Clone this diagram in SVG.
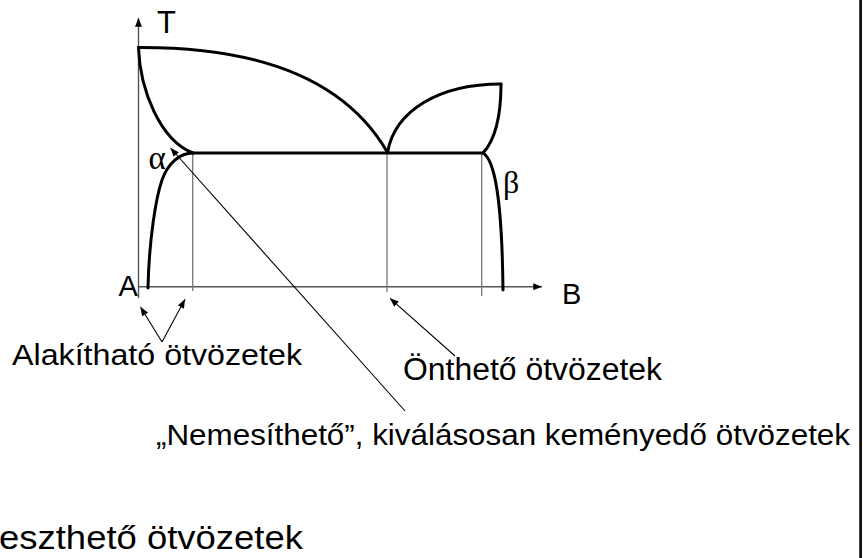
<svg xmlns="http://www.w3.org/2000/svg" width="863" height="558" viewBox="0 0 863 558">
  <style>
    .lbl { font-family: "Liberation Sans", Arial, sans-serif; fill: #000; }
    .greek { font-family: "Liberation Serif", "Times New Roman", serif; fill: #000; }
    .curve { fill: none; stroke: #000; stroke-width: 3; stroke-linecap: round; stroke-linejoin: round; }
    .axis { fill: none; stroke: #555; stroke-width: 1.4; }
    .guide { fill: none; stroke: #777; stroke-width: 1.3; }
    .ptr { fill: none; stroke: #000; stroke-width: 1.1; }
  </style>
  <defs>
    <marker id="ah" viewBox="0 0 10 8" refX="10" refY="4" markerWidth="9" markerHeight="7" markerUnits="userSpaceOnUse" orient="auto">
      <path d="M0,0 L10,4 L0,8 Z" fill="#000"/>
    </marker>
    <marker id="axh" viewBox="0 0 10 8" refX="10" refY="4" markerWidth="9" markerHeight="7" markerUnits="userSpaceOnUse" orient="auto">
      <path d="M0,0 L10,4 L0,8 Z" fill="#000"/>
    </marker>
  </defs>

  <rect x="0" y="0" width="863" height="558" fill="#fff"/>

  <g id="axes">
    <line class="axis" x1="138.5" y1="298" x2="138.5" y2="18" marker-end="url(#axh)"/>
    <line class="axis" x1="138" y1="286.7" x2="542" y2="286.7" marker-end="url(#axh)"/>
    <text class="lbl" x="157" y="32.5" font-size="31">T</text>
    <text class="lbl" x="118.5" y="296" font-size="29">A</text>
    <text class="lbl" x="562" y="304" font-size="29">B</text>
  </g>

  <g id="guides">
    <line class="guide" x1="192.7" y1="153" x2="192.7" y2="291"/>
    <line class="guide" x1="387" y1="153" x2="387" y2="292"/>
    <line class="guide" x1="481.7" y1="153" x2="481.7" y2="296"/>
  </g>

  <g id="phase-diagram">
    <path class="curve" d="M138.5,47.5 C240,47 340,70 387.5,152.5"/>
    <path class="curve" d="M138.5,47.5 C140,90 160,140 193,153"/>
    <path class="curve" d="M193,153 C180,153 168,163 162,180 C156,197 149,240 148,288"/>
    <path class="curve" d="M193,153 L483,153"/>
    <path class="curve" d="M387.5,152.5 C395,110 440,84 501,84"/>
    <path class="curve" d="M501,84 C501,115 495,140 483,153"/>
    <path class="curve" d="M483,153 C495,160 502,200 503,290"/>
    <text class="greek" x="148.5" y="168.5" font-size="33">α</text>
    <text class="greek" x="503" y="193" font-size="32">β</text>
  </g>

  <g id="connectors">
    <line class="ptr" x1="162" y1="342" x2="140.5" y2="307" marker-end="url(#ah)"/>
    <line class="ptr" x1="162" y1="342" x2="185" y2="299.3" marker-end="url(#ah)"/>
    <line class="ptr" x1="455" y1="356" x2="390" y2="298.3" marker-end="url(#ah)"/>
    <line class="ptr" x1="405" y1="411" x2="170.5" y2="148" marker-end="url(#ah)"/>
  </g>

  <g id="label-alakithato">
    <text class="lbl" x="12" y="365" font-size="30" textLength="290" lengthAdjust="spacingAndGlyphs">Alakítható ötvözetek</text>
  </g>
  <g id="label-ontheto">
    <text class="lbl" x="403" y="380" font-size="31" textLength="259" lengthAdjust="spacingAndGlyphs">Önthető ötvözetek</text>
  </g>
  <g id="label-nemesitheto">
    <text class="lbl" x="156" y="445" font-size="29" textLength="694" lengthAdjust="spacingAndGlyphs">„Nemesíthető”, kiválásosan keményedő ötvözetek</text>
  </g>
  <g id="label-bottom">
    <text class="lbl" x="-1" y="549" font-size="33" textLength="304" lengthAdjust="spacingAndGlyphs">eszthető ötvözetek</text>
  </g>

  <line id="right-border" x1="860.6" y1="0" x2="860.6" y2="558" stroke="#111" stroke-width="2.8"/>
</svg>
